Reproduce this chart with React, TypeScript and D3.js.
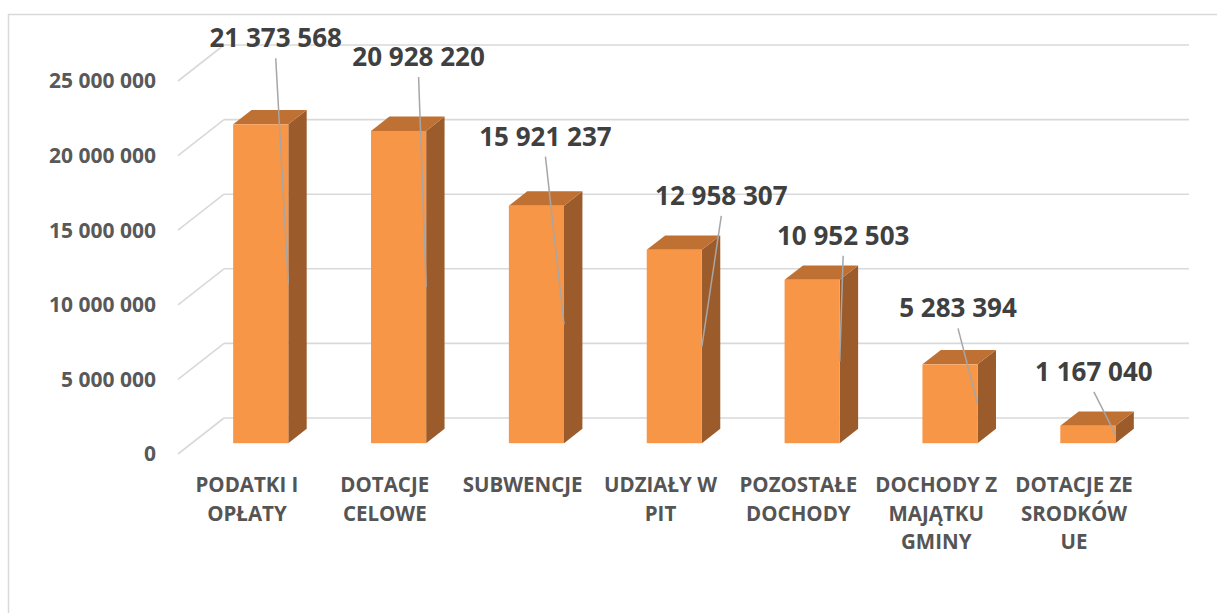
import React from "react";
import * as d3 from "d3";

// dochody gminy wg źródeł
const categories = [
    ["PODATKI I", "OPŁATY"],
    ["DOTACJE", "CELOWE"],
    ["SUBWENCJE"],
    ["UDZIAŁY W", "PIT"],
    ["POZOSTAŁE", "DOCHODY"],
    ["DOCHODY Z", "MAJĄTKU", "GMINY"],
    ["DOTACJE ZE", "SRODKÓW", "UE"],
];
const values = [21373568, 20928220, 15921237, 12958307, 10952503, 5283394, 1167040];
const yTicks = [0, 5000000, 10000000, 15000000, 20000000, 25000000];

// manual label placement (dx from bar centre, dy from bar top), as in the source chart
const labelNudge = [
    [15, -86], [20, -74], [9, -69], [47, -54], [31, -44], [8, -56], [6, -54],
];

const W = 1217;
const H = 613;
const depthX = 46;
const depthY = -36;
const barDepthStart = 0.3;
const barDepthEnd = 0.7;

const fmt = (v: number) => d3.format(",")(v).replace(/,/g, " ");

const App: React.FC = () => {
    const x = d3
        .scaleBand()
        .domain(categories.map((_, i) => String(i)))
        .range([178, 1143])
        .paddingInner(0)
        .paddingOuter(0);
    const y = d3.scaleLinear().domain([0, 25000000]).range([454, 81]);

    // project a point at depth fraction d (0 = front, 1 = back wall)
    const px = (xv: number, d: number) => xv + depthX * d;
    const py = (yv: number, d: number) => yv + depthY * d;

    const barW = x.bandwidth() * 0.4;
    const [x0, x1] = x.range();

    return (
        <svg width={W} height={H} style={{position: "absolute", left: 0, top: 0, background: "#fff"}}
             fontFamily="'Open Sans', sans-serif">
            <rect x={8.5} y={14.5} width={W + 10} height={H + 10} fill="#fff" stroke="#d9d9d9" strokeWidth={1.5}/>

            {/* back wall gridlines + side diagonals */}
            {yTicks.map((t) => (
                <g key={t} stroke="#d9d9d9" strokeWidth={1.6} fill="none">
                    <line x1={px(x0, 1)} x2={px(x1, 1)} y1={py(y(t), 1)} y2={py(y(t), 1)}/>
                    <line x1={px(x0, 0)} x2={px(x0, 1)} y1={y(t)} y2={py(y(t), 1)}/>
                </g>
            ))}

            {yTicks.map((t) => (
                <text key={t} x={156} y={y(t)} dy="0.35em" textAnchor="end" fontSize={21}
                      fontWeight="bold" fill="#595959">{fmt(t)}</text>
            ))}

            {/* bars */}
            {values.map((v, i) => {
                const cx = (x(String(i)) || 0) + x.bandwidth() / 2;
                const l = px(cx - barW / 2, barDepthStart);
                const r = px(cx + barW / 2, barDepthStart);
                const top = py(y(v), barDepthStart);
                const bot = py(y(0), barDepthStart);
                const dd = barDepthEnd - barDepthStart;
                const ox = depthX * dd;
                const oy = depthY * dd;
                return (
                    <g key={i}>
                        <polygon points={`${r},${top} ${r + ox},${top + oy} ${r + ox},${bot + oy} ${r},${bot}`}
                                 fill="#9c5b2b"/>
                        <polygon points={`${l},${top} ${l + ox},${top + oy} ${r + ox},${top + oy} ${r},${top}`}
                                 fill="#bf7134"/>
                        <rect x={l} y={top} width={barW} height={bot - top} fill="#f79646"/>
                    </g>
                );
            })}

            {/* data labels with leader lines */}
            {values.map((v, i) => {
                const cx = px((x(String(i)) || 0) + x.bandwidth() / 2, barDepthStart);
                const top = py(y(v), barDepthStart);
                const bot = py(y(0), barDepthStart);
                const lx = cx + labelNudge[i][0];
                const ly = top + labelNudge[i][1];
                return (
                    <g key={i}>
                        <line x1={lx} y1={ly + 20} x2={cx + barW / 2} y2={(top + bot) / 2}
                              stroke="#a6a6a6" strokeWidth={1.5}/>
                        <text x={lx} y={ly} dy="0.35em" textAnchor="middle" fontSize={26}
                              fontWeight="bold" fill="#404040">{fmt(v)}</text>
                    </g>
                );
            })}

            {/* category labels */}
            {categories.map((lines, i) => (
                <text key={i} x={(x(String(i)) || 0) + x.bandwidth() / 2} y={485} textAnchor="middle"
                      fontSize={20.5} fontWeight="bold" fill="#555555">
                    {lines.map((s, j) => (
                        <tspan key={j} x={(x(String(i)) || 0) + x.bandwidth() / 2} y={485 + j * 28.5}
                               dy="0.35em">{s}</tspan>
                    ))}
                </text>
            ))}
        </svg>
    );
};

export default App;
